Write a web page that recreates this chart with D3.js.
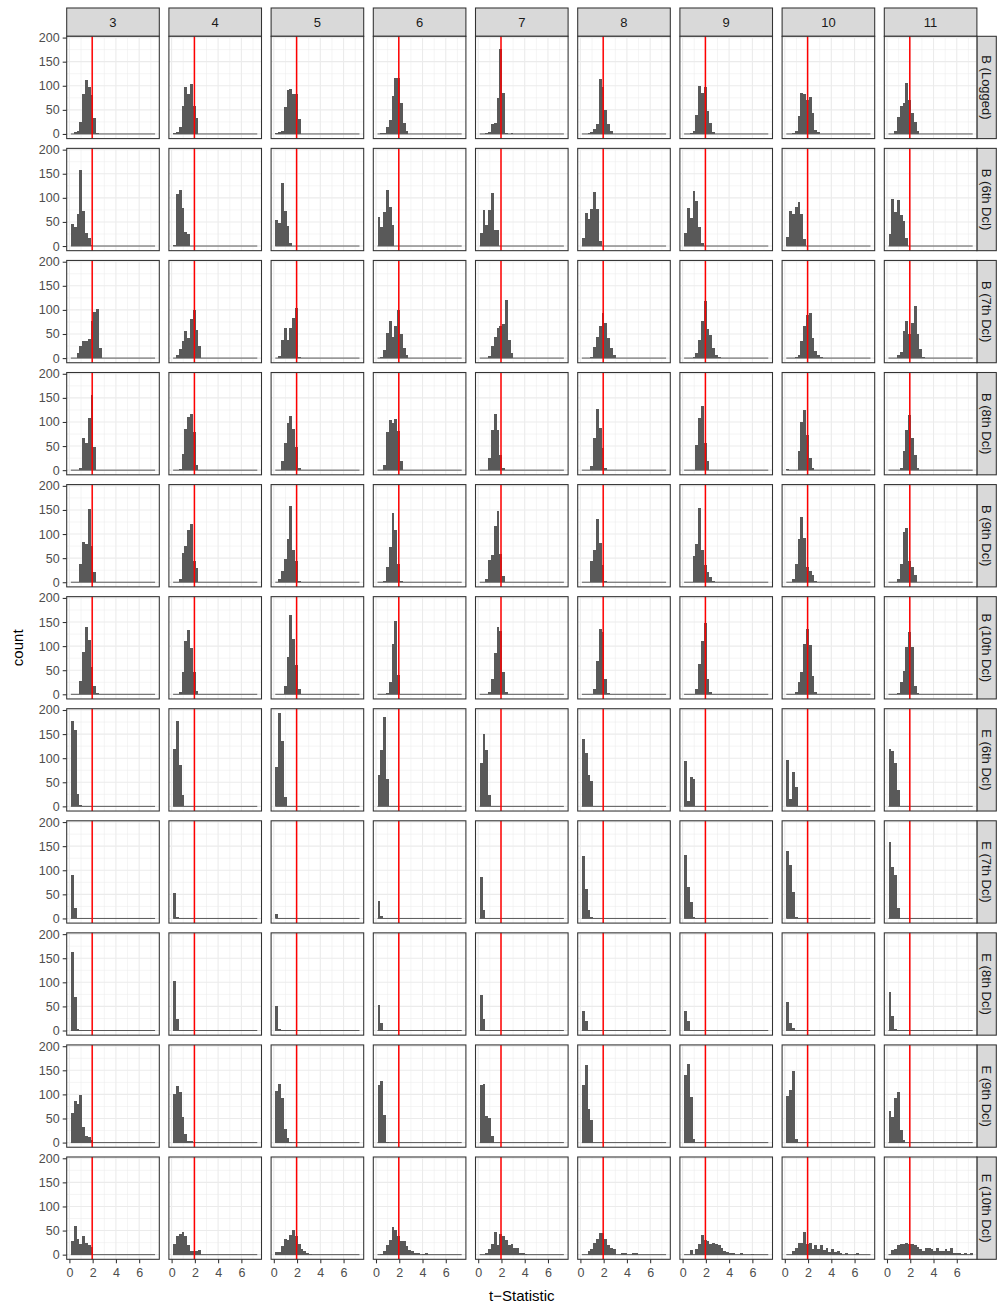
<!DOCTYPE html>
<html>
<head>
<meta charset="utf-8">
<script src="https://d3js.org/d3.v7.min.js"></script>
<style>
body { margin: 0; background: #ffffff; }
text { font-family: "Liberation Sans", Arial, Helvetica, sans-serif; }
</style>
</head>
<body>
<svg id="chart" width="997" height="1306"></svg>
<script>
// facet labels
var colLabels = ["3", "4", "5", "6", "7", "8", "9", "10", "11"];
var rowLabels = ["B (Logged)", "B (6th Dcl)", "B (7th Dcl)", "B (8th Dcl)", "B (9th Dcl)",
                 "B (10th Dcl)", "E (6th Dcl)", "E (7th Dcl)", "E (8th Dcl)", "E (9th Dcl)", "E (10th Dcl)"];

// histogram bins, shared by every panel
var binStart = 0.13;
var binWidth = 0.2413;
var nBins = 30;
var critical = 1.96;

var xTicks = [0, 2, 4, 6];
var xMinor = [1, 3, 5, 7];
var yTicks = [0, 50, 100, 150, 200];
var yMinor = [25, 75, 125, 175];

// counts per bin (first bin first), one list per column; empty bins at the end left out
var countsBLogged = [
  [0,5,7,25,83,111,97,80,34,3],
  [2,5,14,58,97,83,103,59,33],
  [2,4,7,56,92,93,82,82,32],
  [0,2,3,14,28,78,117,117,65,23,7],
  [0,0,2,5,20,22,74,177,85,3,0,2],
  [0,0,2,4,11,21,115,97,49,21,7],
  [0,0,2,7,40,99,85,97,47,22,5],
  [0,0,2,7,38,85,82,71,76,44,9,5],
  [0,0,7,36,59,64,105,70,44,24,7]
];
var countsB6 = [
  [45,39,66,157,72,26,16,3],
  [3,107,117,79,29,24],
  [55,48,130,72,41,7],
  [61,39,70,116,81,43],
  [28,74,43,74,109,34,34],
  [16,68,57,77,112,77,10],
  [28,79,59,115,94,39,6],
  [19,72,66,81,92,66,14],
  [25,97,70,96,65,52,16]
];
var countsB7 = [
  [0,0,10,26,35,36,40,76,95,102,21],
  [0,7,19,36,56,42,82,99,59,26],
  [0,4,38,62,38,62,83,104,2],
  [0,2,17,52,78,44,66,100,49,21,7],
  [0,0,0,5,26,44,62,67,70,120,38,10],
  [0,0,0,2,22,43,66,94,73,42,21,6],
  [0,0,0,2,10,38,76,118,60,47,21,7,3],
  [0,0,1,3,7,35,66,90,94,42,14,6,2],
  [0,0,0,6,12,56,78,50,73,109,49,19,3]
];
var countsB8 = [
  [0,0,0,4,67,56,108,157,49],
  [0,0,3,33,85,110,117,80,11],
  [0,0,19,56,97,113,85,48,4],
  [0,0,11,80,105,98,106,82,18],
  [0,0,0,25,83,117,84,32,4],
  [0,0,0,8,67,126,88,46,4],
  [0,0,0,0,53,108,133,56,18],
  [2,0,0,0,40,99,124,74,26,4],
  [0,0,0,0,4,40,84,115,67,32,4]
];
var countsB9 = [
  [0,0,0,38,83,80,151,76,21],
  [0,0,7,61,76,108,120,44,29],
  [0,6,24,49,89,158,66,44,2],
  [0,0,2,31,73,144,109,38,2],
  [0,0,6,47,56,117,147,59,12],
  [0,0,0,44,66,132,81,36,2],
  [0,0,0,54,80,154,66,35,22,10,3],
  [0,0,6,38,90,135,92,31,24,14,3],
  [0,0,0,6,38,104,112,45,31,14]
];
var countsB10 = [
  [0,0,0,28,87,139,112,56,17,3],
  [0,0,4,46,110,134,97,47,6],
  [0,0,0,17,77,165,115,61,12],
  [0,0,0,3,25,105,153,40],
  [0,0,0,4,31,86,140,131,46,4],
  [0,0,0,0,12,70,135,129,32,3],
  [0,0,0,0,12,63,110,147,32,4],
  [0,0,0,4,25,46,105,135,103,39,4],
  [0,0,0,3,25,49,98,129,98,17,3]
];
var countsE6 = [
  [177,158,26,2],
  [119,177,85,23],
  [81,193,135,19],
  [66,117,185,57],
  [89,151,117,24],
  [140,111,66,52],
  [94,12,61,57],
  [96,15,71,40],
  [120,115,90,33]
];
var countsE7 = [
  [91,22],
  [53,4],
  [9],
  [37,6],
  [85,17],
  [129,61,17,2],
  [131,65,35,2],
  [140,110,54,3],
  [158,106,91,22]
];
var countsE8 = [
  [162,69,3],
  [103,24],
  [50,3],
  [53,15,2],
  [73,24,1],
  [41,19],
  [41,19],
  [60,15,6],
  [79,31,3]
];
var countsE9 = [
  [62,86,81,98,33,13,12,5],
  [101,117,106,54,18,4,4],
  [108,121,92,28,9,2],
  [119,128,58,2],
  [119,121,56,52,14],
  [120,162,69,47],
  [141,164,94,7],
  [96,110,149,7],
  [65,54,92,106,26,6]
];
var countsE10 = [
  [29,60,32,23,39,25,21,15],
  [22,39,43,47,38,20,8,8,8,10],
  [5,6,17,32,30,41,51,39,23,12,8,3,2],
  [0,2,8,19,30,58,51,38,28,28,17,10,8,4,4,0,2,3],
  [0,0,3,12,22,48,20,43,39,30,19,23,13,13,4,4,1],
  [0,0,7,12,25,32,45,44,32,19,14,12,0,0,4,3,0,0,3,3],
  [0,0,10,0,12,23,41,30,29,23,25,23,21,14,8,6,4,4,0,0,3,0,0,0,2],
  [0,0,8,14,25,25,48,23,25,12,19,12,19,10,14,5,12,6,8,4,0,3,0,0,2,3],
  [0,10,12,19,23,23,25,22,22,19,15,12,7,13,13,12,8,13,7,8,12,7,13,4,4,3,2,4,0,3]
];

var allCounts = [countsBLogged, countsB6, countsB7, countsB8, countsB9, countsB10,
                 countsE6, countsE7, countsE8, countsE9, countsE10];

// layout
var left0 = 66.7, colStep = 102.2, pw = 92.6;
var top0 = 36.3, rowStep = 112.07, ph = 102.3;
var stripTop = 8, stripRight = 19.4;

var x = d3.scaleLinear().domain([-0.232, 7.731]).range([0, pw]);
var y = d3.scaleLinear().domain([-9.65, 202.65]).range([ph, 0]);

var svg = d3.select("#chart");
svg.append("rect").attr("width", 997).attr("height", 1306).attr("fill", "#ffffff");

// column strips
colLabels.forEach(function(lab, c) {
  var g = svg.append("g").attr("transform", "translate(" + (left0 + c * colStep) + "," + stripTop + ")");
  g.append("rect").attr("width", pw).attr("height", top0 - stripTop)
    .attr("fill", "#d9d9d9").attr("stroke", "#333333").attr("stroke-width", 1.07);
  g.append("text").attr("x", pw / 2).attr("y", (top0 - stripTop) / 2).attr("dy", "0.35em")
    .attr("text-anchor", "middle").attr("font-size", 13).attr("fill", "#1a1a1a").text(lab);
});

// row strips
rowLabels.forEach(function(lab, r) {
  var sx = left0 + 8 * colStep + pw;
  var g = svg.append("g").attr("transform", "translate(" + sx + "," + (top0 + r * rowStep) + ")");
  g.append("rect").attr("width", stripRight).attr("height", ph)
    .attr("fill", "#d9d9d9").attr("stroke", "#333333").attr("stroke-width", 1.07);
  g.append("text").attr("transform", "translate(" + (stripRight / 2) + "," + (ph / 2) + ") rotate(90)")
    .attr("dy", "0.35em").attr("text-anchor", "middle").attr("font-size", 13).attr("fill", "#1a1a1a").text(lab);
});

allCounts.forEach(function(rowCounts, r) {
  rowCounts.forEach(function(counts, c) {
    var g = svg.append("g")
      .attr("transform", "translate(" + (left0 + c * colStep) + "," + (top0 + r * rowStep) + ")");

    g.append("rect").attr("width", pw).attr("height", ph).attr("fill", "#ffffff");

    // grid
    g.selectAll(".xminor").data(xMinor).enter().append("line")
      .attr("x1", d => x(d)).attr("x2", d => x(d)).attr("y1", 0).attr("y2", ph)
      .attr("stroke", "#ebebeb").attr("stroke-width", 0.55);
    g.selectAll(".yminor").data(yMinor).enter().append("line")
      .attr("x1", 0).attr("x2", pw).attr("y1", d => y(d)).attr("y2", d => y(d))
      .attr("stroke", "#ebebeb").attr("stroke-width", 0.55);
    g.selectAll(".xmajor").data(xTicks).enter().append("line")
      .attr("x1", d => x(d)).attr("x2", d => x(d)).attr("y1", 0).attr("y2", ph)
      .attr("stroke", "#ebebeb").attr("stroke-width", 1.1);
    g.selectAll(".ymajor").data(yTicks).enter().append("line")
      .attr("x1", 0).attr("x2", pw).attr("y1", d => y(d)).attr("y2", d => y(d))
      .attr("stroke", "#ebebeb").attr("stroke-width", 1.1);

    // histogram (empty bins show as the flat line)
    var bins = d3.range(nBins).map(function(i) {
      return { x0: binStart + i * binWidth, x1: binStart + (i + 1) * binWidth, n: counts[i] || 0 };
    });
    g.append("line")
      .attr("x1", x(binStart)).attr("x2", x(binStart + nBins * binWidth))
      .attr("y1", y(0)).attr("y2", y(0))
      .attr("stroke", "#595959").attr("stroke-width", 1);
    g.selectAll(".bar").data(bins.filter(b => b.n > 0)).enter().append("rect")
      .attr("x", d => x(d.x0)).attr("width", d => x(d.x1) - x(d.x0))
      .attr("y", d => y(d.n)).attr("height", d => y(0) - y(d.n))
      .attr("fill", "#595959").attr("shape-rendering", "crispEdges");

    // critical value
    g.append("line").attr("x1", x(critical)).attr("x2", x(critical)).attr("y1", 0).attr("y2", ph)
      .attr("stroke", "#ff0000").attr("stroke-width", 1.5);

    g.append("rect").attr("width", pw).attr("height", ph)
      .attr("fill", "none").attr("stroke", "#333333").attr("stroke-width", 1.07);

    if (c === 0) {
      var ay = g.append("g").call(d3.axisLeft(y).tickValues(yTicks).tickSize(4).tickPadding(3));
      ay.select(".domain").remove();
      ay.selectAll("line").attr("stroke", "#333333").attr("stroke-width", 1.07);
      ay.selectAll("text").attr("fill", "#4d4d4d").attr("font-size", 12.5)
        .attr("font-family", "'Liberation Sans', Arial, sans-serif");
    }
    if (r === allCounts.length - 1) {
      var ax = g.append("g").attr("transform", "translate(0," + ph + ")")
        .call(d3.axisBottom(x).tickValues(xTicks).tickFormat(d3.format("d")).tickSize(4).tickPadding(5));
      ax.select(".domain").remove();
      ax.selectAll("line").attr("stroke", "#333333").attr("stroke-width", 1.07);
      ax.selectAll("text").attr("fill", "#4d4d4d").attr("font-size", 12.5)
        .attr("font-family", "'Liberation Sans', Arial, sans-serif");
    }
  });
});

// axis titles
var panelsBottom = top0 + 10 * rowStep + ph;
svg.append("text")
  .attr("transform", "translate(18," + ((top0 + panelsBottom) / 2) + ") rotate(-90)")
  .attr("text-anchor", "middle").attr("dy", "0.35em").attr("font-size", 15).attr("fill", "#000000")
  .text("count");
svg.append("text")
  .attr("x", (left0 + left0 + 8 * colStep + pw) / 2).attr("y", 1301)
  .attr("text-anchor", "middle").attr("font-size", 15).attr("fill", "#000000")
  .text("t\u2212Statistic");
</script>
</body>
</html>
